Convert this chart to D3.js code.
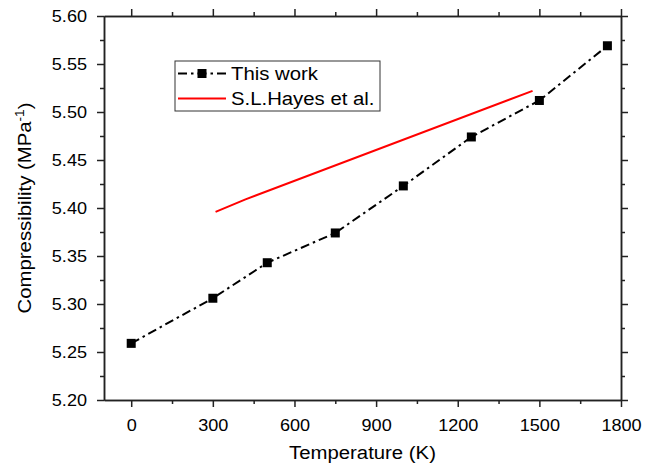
<!DOCTYPE html>
<html>
<head>
<meta charset="utf-8">
<script src="https://cdn.jsdelivr.net/npm/d3@7"></script>
<style>
  body { margin: 0; background: #fff; }
  svg { display: block; }
</style>
</head>
<body>
<div id="chart"></div>
<script>
// data
const tempThisWork = [0, 300, 500, 750, 1000, 1250, 1500, 1750];
const compThisWork = [5.259, 5.306, 5.343, 5.374, 5.423, 5.474, 5.512, 5.569];
const tempHayes = [310, 420, 1475];
const compHayes = [5.396, 5.409, 5.522];
const xTicks = [0, 300, 600, 900, 1200, 1500, 1800];
const xMinor = [150, 450, 750, 1050, 1350, 1650];
const yTicks = [5.20, 5.25, 5.30, 5.35, 5.40, 5.45, 5.50, 5.55, 5.60];
const yMinor = [5.225, 5.275, 5.325, 5.375, 5.425, 5.475, 5.525, 5.575];
const seriesNames = ["This work", "S.L.Hayes et al."];

const W = 653, H = 468;
const margin = {left: 104, right: 32, top: 16, bottom: 68};
const SX = 1.13; // text in the figure is a little wide
const font = "'Liberation Sans', Arial, sans-serif";
const axisColor = "#222";

const svg = d3.select("#chart").append("svg")
	.attr("width", W)
	.attr("height", H)
	.style("font-family", font);

const x = d3.scaleLinear().domain([-100, 1800]).range([margin.left, W - margin.right]);
const y = d3.scaleLinear().domain([5.20, 5.60]).range([H - margin.bottom, margin.top]);

const x0 = x.range()[0], x1 = x.range()[1];
const y0 = y.range()[0], y1 = y.range()[1];

function styleAxis(g) {
	g.select(".domain").attr("stroke", axisColor).attr("stroke-width", 1.5);
	g.selectAll(".tick line").attr("stroke", axisColor).attr("stroke-width", 1.5);
}

// bottom
svg.append("g").attr("transform", `translate(0,${y0})`)
	.call(d3.axisBottom(x).tickValues(xMinor).tickSize(4).tickSizeOuter(0).tickFormat(""))
	.call(styleAxis);
const gx = svg.append("g").attr("transform", `translate(0,${y0})`)
	.call(d3.axisBottom(x).tickValues(xTicks).tickSize(7).tickSizeOuter(0).tickPadding(13).tickFormat(d3.format("d")))
	.call(styleAxis);
gx.selectAll("text")
	.attr("font-size", 16).attr("font-family", font).attr("fill", "#000")
	.attr("transform", `scale(${SX},1)`);

// top (mirror, no labels)
svg.append("g").attr("transform", `translate(0,${y1})`)
	.call(d3.axisTop(x).tickValues(xMinor).tickSize(4).tickSizeOuter(0).tickFormat(""))
	.call(styleAxis);
svg.append("g").attr("transform", `translate(0,${y1})`)
	.call(d3.axisTop(x).tickValues(xTicks).tickSize(7).tickSizeOuter(0).tickFormat(""))
	.call(styleAxis);

// left
svg.append("g").attr("transform", `translate(${x0},0)`)
	.call(d3.axisLeft(y).tickValues(yMinor).tickSize(4).tickSizeOuter(0).tickFormat(""))
	.call(styleAxis);
const gy = svg.append("g").attr("transform", `translate(${x0},0)`)
	.call(d3.axisLeft(y).tickValues(yTicks).tickSize(7).tickSizeOuter(0).tickFormat(d3.format(".2f")))
	.call(styleAxis);
gy.selectAll("text")
	.attr("font-size", 16).attr("font-family", font).attr("fill", "#000")
	.attr("x", -17 / SX)
	.attr("transform", `scale(${SX},1)`);

// right (mirror)
svg.append("g").attr("transform", `translate(${x1},0)`)
	.call(d3.axisRight(y).tickValues(yMinor).tickSize(4).tickSizeOuter(0).tickFormat(""))
	.call(styleAxis);
svg.append("g").attr("transform", `translate(${x1},0)`)
	.call(d3.axisRight(y).tickValues(yTicks).tickSize(7).tickSizeOuter(0).tickFormat(""))
	.call(styleAxis);

// axis titles
svg.append("text")
	.attr("transform", `translate(${(x0 + x1) / 2},459) scale(${SX},1)`)
	.attr("text-anchor", "middle")
	.attr("font-size", 18)
	.text("Temperature (K)");

const yt = svg.append("text")
	.attr("transform", `translate(31,${(y0 + y1) / 2}) rotate(-90) scale(${SX},1)`)
	.attr("text-anchor", "middle")
	.attr("font-size", 18);
yt.append("tspan").text("Compressibility (MPa");
yt.append("tspan").attr("dy", -7).attr("font-size", 12).text("-1");
yt.append("tspan").attr("dy", 7).text(")");

// series
const thisWork = tempThisWork.map((t, i) => ({t: t, v: compThisWork[i]}));
const hayes = tempHayes.map((t, i) => ({t: t, v: compHayes[i]}));

const line = d3.line().x(d => x(d.t)).y(d => y(d.v));

svg.append("path")
	.datum(hayes)
	.attr("d", line)
	.attr("fill", "none")
	.attr("stroke", "#ff0000")
	.attr("stroke-width", 2);

svg.append("path")
	.datum(thisWork)
	.attr("d", line)
	.attr("fill", "none")
	.attr("stroke", "#000")
	.attr("stroke-width", 2)
	.attr("stroke-dasharray", "9,4,2.5,4");

svg.append("g")
	.selectAll("rect")
	.data(thisWork)
	.join("rect")
		.attr("x", d => x(d.t) - 4.5)
		.attr("y", d => y(d.v) - 4.5)
		.attr("width", 9)
		.attr("height", 9)
		.attr("fill", "#000");

// legend
const leg = svg.append("g").attr("transform", "translate(175,61)");
leg.append("rect")
	.attr("width", 205)
	.attr("height", 50)
	.attr("fill", "#fff")
	.attr("stroke", "#333")
	.attr("stroke-width", 1);

leg.append("line")
	.attr("x1", 3).attr("x2", 51).attr("y1", 12.5).attr("y2", 12.5)
	.attr("stroke", "#000").attr("stroke-width", 2)
	.attr("stroke-dasharray", "9,4,2.5,4");
leg.append("rect")
	.attr("x", 22.5).attr("y", 8).attr("width", 9).attr("height", 9)
	.attr("fill", "#000");
leg.append("line")
	.attr("x1", 3).attr("x2", 51).attr("y1", 37.5).attr("y2", 37.5)
	.attr("stroke", "#ff0000").attr("stroke-width", 2);

leg.selectAll("text.lbl")
	.data(seriesNames)
	.join("text")
		.attr("class", "lbl")
		.attr("transform", (d, i) => `translate(56,${19 + i * 25}) scale(${SX},1)`)
		.attr("font-size", 18)
		.text(d => d);
</script>
</body>
</html>
